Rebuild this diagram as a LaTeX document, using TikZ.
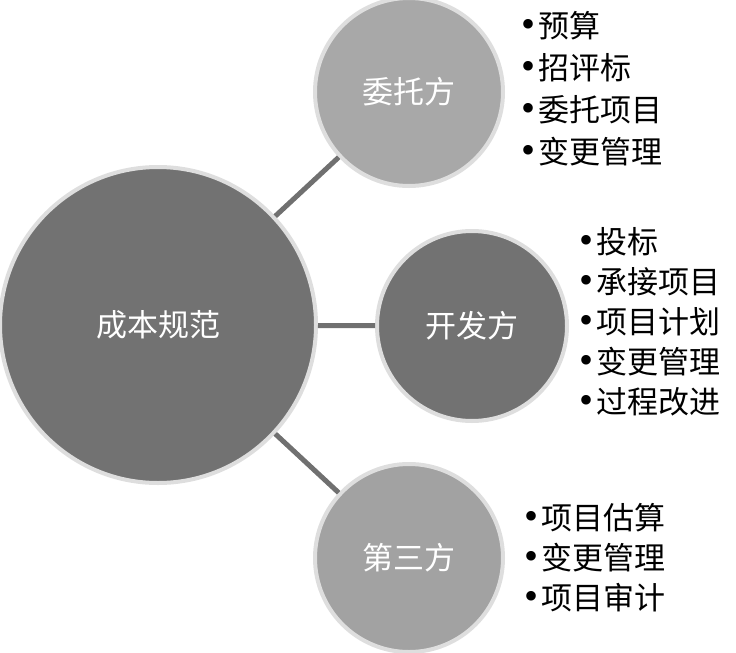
\documentclass[tikz,border=0pt]{standalone}
\usepackage{fontspec}
\setmainfont{Noto Sans CJK SC}
\newfontfamily\bulletfont{Liberation Serif}
\definecolor{ringgray}{HTML}{DEDEDE}
\definecolor{darkfill}{HTML}{727272}
\definecolor{lightfill}{HTML}{A8A8A8}
\definecolor{midfill}{HTML}{A2A2A2}
\definecolor{linkgray}{HTML}{707070}
\newcommand{\bu}{{\bulletfont\fontsize{40}{40}\selectfont\char"2022}\hspace{3pt}}
\begin{document}
\begin{tikzpicture}[x=1pt,y=-1pt,
  bubble/.style={circle,draw=ringgray,line width=4pt,inner sep=0pt,text=white,
    font=\fontsize{31}{36}\selectfont},
  link/.style={draw=linkgray,line width=5pt},
  bulletlist/.style={anchor=west,align=left,inner sep=0pt,text=black}]
\useasboundingbox (0,0) rectangle (736,653);
\node[bubble,fill=darkfill,minimum size=316pt] (big) at (158,325) {成本规范};
\node[bubble,fill=lightfill,minimum size=188pt] (top) at (409,92) {委托方};
\node[bubble,fill=darkfill,minimum size=190pt] (mid) at (472,326) {开发方};
\node[bubble,fill=midfill,minimum size=188pt] (bot) at (409,558) {第三方};
\draw[link] (big) -- (top);
\draw[link] (big) -- (mid);
\draw[link] (big) -- (bot);
\node[bulletlist,font=\fontsize{31}{42}\selectfont] (l1) at (521,89)
  {\bu 预算\\ \bu 招评标\\ \bu 委托项目\\ \bu 变更管理};
\node[bulletlist,font=\fontsize{31}{40}\selectfont] (l2) at (579,322)
  {\bu 投标\\ \bu 承接项目\\ \bu 项目计划\\ \bu 变更管理\\ \bu 过程改进};
\node[bulletlist,font=\fontsize{31}{40}\selectfont] (l3) at (524,558)
  {\bu 项目估算\\ \bu 变更管理\\ \bu 项目审计};
\end{tikzpicture}
\end{document}
